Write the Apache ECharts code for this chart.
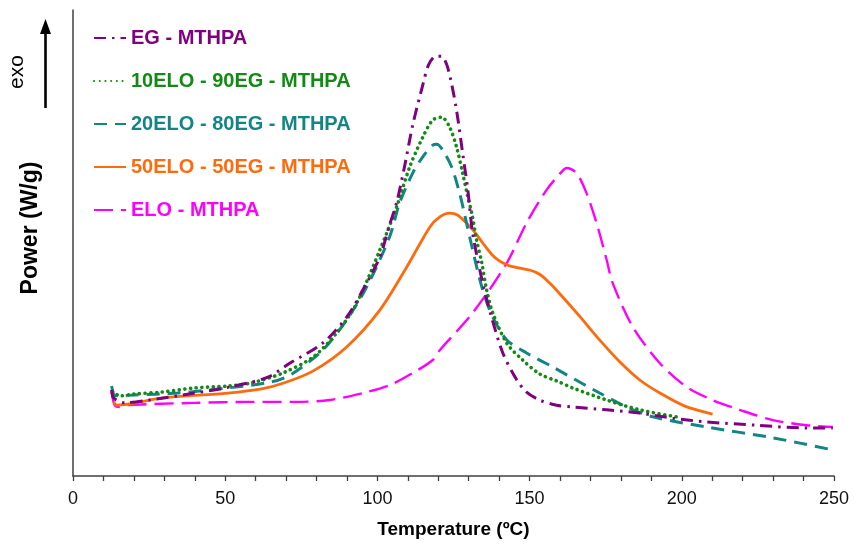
<!DOCTYPE html>
<html>
<head>
<meta charset="utf-8">
<script src="https://cdn.jsdelivr.net/npm/echarts@6/dist/echarts.min.js"></script>
<style>
  html, body { margin: 0; padding: 0; background: #fff; }
  #chart { width: 854px; height: 545px; }
</style>
</head>
<body>
<div id="chart"></div>
<script>
// DSC curing exotherms: heat flow (arbitrary W/g offset) vs temperature (ºC)
const xTicks = [0, 50, 100, 150, 200, 250];

const egT = [12.7, 13.4, 17.0, 25.2, 40.0, 51.5, 64.0, 71.2, 82.0, 89.9, 95.2, 100.8, 104.0, 106.3, 109.0, 111.6, 114.9, 116.8, 119.2, 121.1, 122.7, 124.1, 126.0, 128.0, 129.7, 131.3, 134.6, 137.5, 141.2, 145.8, 149.0, 153.3, 158.9, 164.2, 175.3, 186.2, 197.0, 208.2, 224.6, 241.0, 249.6];
const egP = [1.85, 1.67, 1.57, 1.63, 1.78, 1.91, 2.12, 2.42, 2.85, 3.41, 3.99, 4.70, 5.39, 5.86, 6.67, 7.53, 8.39, 8.82, 9.01, 9.01, 8.84, 8.50, 7.85, 6.93, 6.14, 5.21, 4.14, 3.41, 2.64, 2.06, 1.80, 1.63, 1.52, 1.48, 1.42, 1.35, 1.24, 1.16, 1.09, 1.03, 1.03];

const elo10T = [13.0, 15.4, 20.3, 29.1, 40.0, 50.8, 58.7, 68.9, 78.8, 86.6, 93.2, 100.8, 106.3, 110.6, 114.9, 118.2, 121.1, 123.7, 126.0, 128.0, 129.7, 131.0, 132.6, 134.3, 135.9, 137.9, 142.5, 147.7, 153.3, 158.9, 164.2, 175.3, 186.2, 198.3];
const elo10P = [1.82, 1.72, 1.76, 1.80, 1.89, 1.93, 2.00, 2.21, 2.55, 3.07, 3.71, 4.85, 5.77, 6.63, 7.27, 7.64, 7.70, 7.49, 7.06, 6.50, 5.99, 5.64, 5.06, 4.57, 3.99, 3.50, 2.85, 2.49, 2.19, 2.04, 1.89, 1.63, 1.42, 1.27];

const elo20T = [12.7, 14.0, 20.3, 34.4, 50.8, 65.3, 71.9, 82.0, 89.9, 96.5, 104.0, 107.3, 111.6, 114.9, 118.2, 119.5, 121.4, 124.4, 127.0, 128.7, 131.3, 134.6, 137.9, 142.5, 149.0, 157.6, 162.2, 173.0, 181.9, 190.4, 208.2, 229.9, 249.6];
const elo20P = [1.93, 1.72, 1.74, 1.78, 1.89, 2.02, 2.19, 2.70, 3.35, 4.06, 5.13, 5.86, 6.50, 6.85, 7.10, 7.12, 7.00, 6.63, 6.07, 5.60, 4.85, 3.99, 3.41, 2.92, 2.64, 2.34, 2.17, 1.78, 1.48, 1.27, 1.05, 0.82, 0.56];

const elo50T = [13.4, 14.4, 29.1, 50.8, 62.0, 69.5, 78.8, 89.9, 100.8, 109.6, 117.2, 120.5, 123.7, 126.3, 129.2, 131.9, 134.6, 137.5, 140.2, 143.4, 146.8, 150.0, 153.3, 156.6, 159.9, 166.4, 173.0, 179.6, 186.2, 192.8, 201.0, 210.1];
const elo50P = [1.59, 1.52, 1.67, 1.78, 1.87, 2.00, 2.25, 2.77, 3.56, 4.48, 5.34, 5.56, 5.64, 5.60, 5.43, 5.24, 5.00, 4.76, 4.61, 4.51, 4.46, 4.42, 4.33, 4.14, 3.91, 3.43, 2.92, 2.45, 2.06, 1.78, 1.50, 1.33];

const eloT = [12.7, 13.7, 15.3, 18.0, 40.0, 58.0, 72.8, 84.3, 95.2, 104.0, 111.6, 118.2, 120.5, 131.3, 142.5, 149.0, 155.6, 159.9, 162.2, 165.4, 168.7, 172.0, 175.3, 177.3, 183.9, 192.8, 201.6, 210.1, 219.0, 229.9, 241.0, 249.6];
const eloP = [1.80, 1.52, 1.48, 1.52, 1.57, 1.59, 1.59, 1.63, 1.78, 1.95, 2.21, 2.49, 2.70, 3.50, 4.57, 5.43, 6.14, 6.48, 6.61, 6.50, 6.07, 5.43, 4.64, 4.14, 3.20, 2.42, 1.91, 1.63, 1.42, 1.20, 1.09, 1.05];

const seriesNames = ['EG - MTHPA', '10ELO - 90EG - MTHPA', '20ELO - 80EG - MTHPA', '50ELO - 50EG - MTHPA', 'ELO - MTHPA'];
const seriesColors = ['#800080', '#138a13', '#138585', '#ff6a0d', '#ff00ff'];

const zip = (xs, ys) => xs.map((x, i) => [x, ys[i]]);

const lineStyles = [
  { width: 3, type: [12, 6, 2.5, 6], cap: 'butt' },
  { width: 3.6, type: [0.1, 5.6], cap: 'round' },
  { width: 3, type: [13, 8], cap: 'butt' },
  { width: 2.8, type: 'solid' },
  { width: 2.4, type: [19, 8], cap: 'butt' }
];

const dataSets = [zip(egT, egP), zip(elo10T, elo10P), zip(elo20T, elo20P), zip(elo50T, elo50P), zip(eloT, eloP)];

const series = dataSets.map((d, i) => ({
  name: seriesNames[i],
  type: 'line',
  data: d,
  smooth: 0.3,
  symbol: 'none',
  color: seriesColors[i],
  lineStyle: Object.assign({ color: seriesColors[i] }, lineStyles[i]),
  z: 5 - i
}));

const FONT = '"Liberation Sans", Arial, sans-serif';
const chart = echarts.init(document.getElementById('chart'), null, { renderer: 'canvas' });

chart.setOption({
  animation: false,
  backgroundColor: '#ffffff',
  textStyle: { fontFamily: FONT },
  grid: { left: 73, right: 20, top: 10, bottom: 69 },
  legend: {
    orient: 'vertical',
    left: 93,
    top: 28,
    padding: 0,
    itemWidth: 32,
    itemHeight: 14,
    itemGap: 23,
    itemStyle: { opacity: 0 },
    data: seriesNames.map((n, i) => ({
      name: n,
      textStyle: { color: seriesColors[i] }
    })),
    textStyle: { fontSize: 20, fontWeight: 'bold', lineHeight: 20, fontFamily: FONT }
  },
  xAxis: {
    type: 'value',
    min: 0,
    max: 250,
    interval: 50,
    name: 'Temperature (ºC)',
    nameLocation: 'middle',
    nameGap: 44,
    nameTextStyle: { fontSize: 19, fontWeight: 'bold', color: '#000' },
    axisLine: { show: true, lineStyle: { color: '#404040', width: 1.5 } },
    axisTick: { show: true, inside: false, length: 5, lineStyle: { color: '#404040', width: 1.3 } },
    minorTick: { show: true, splitNumber: 5, length: 5, lineStyle: { color: '#404040', width: 1.3 } },
    axisLabel: { fontSize: 18, color: '#111', margin: 14, formatter: v => xTicks.includes(v) ? String(v) : '' },
    splitLine: { show: false }
  },
  yAxis: {
    type: 'value',
    min: 0,
    max: 10,
    axisLine: { show: true, lineStyle: { color: '#404040', width: 1.5 } },
    axisTick: { show: false },
    axisLabel: { show: false },
    splitLine: { show: false }
  },
  graphic: [
    {
      type: 'text',
      x: 31, y: 228,
      rotation: Math.PI / 2,
      style: { text: 'Power (W/g)', fontSize: 23, fontWeight: 'bold', fill: '#000', align: 'center', verticalAlign: 'middle', fontFamily: FONT }
    },
    {
      type: 'text',
      x: 17, y: 72,
      rotation: Math.PI / 2,
      style: { text: 'exo', fontSize: 21, fill: '#000', align: 'center', verticalAlign: 'middle', fontFamily: FONT }
    },
    {
      type: 'line',
      shape: { x1: 45.5, y1: 108, x2: 45.5, y2: 30 },
      style: { stroke: '#000', lineWidth: 2.6 }
    },
    {
      type: 'polygon',
      shape: { points: [[40, 34], [51, 34], [45.5, 19]] },
      style: { fill: '#000' }
    }
  ],
  series: series
});
</script>
</body>
</html>
